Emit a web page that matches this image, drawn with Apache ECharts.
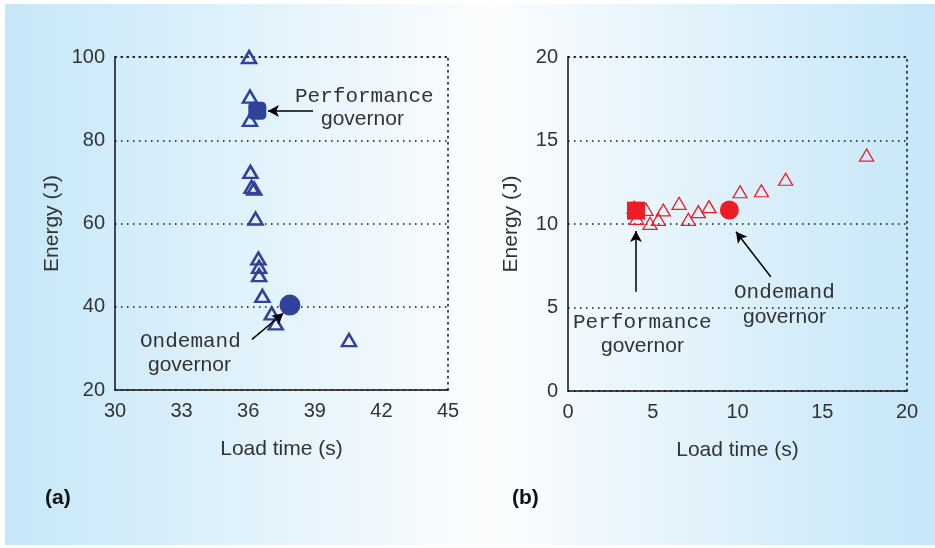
<!DOCTYPE html>
<html>
<head>
<meta charset="utf-8">
<script src="https://cdn.jsdelivr.net/npm/echarts@6/dist/echarts.min.js"></script>
<style>html,body{margin:0;padding:0;background:#fff}#c{width:935px;height:548px}</style>
</head>
<body>
<div id="c"></div>
<script>
// ---- Panel (a) data: [load time (s), energy (J)]
var otherA = [[36.04,100],[36.08,90.5],[36.08,84.9],[36.10,72.4],[36.15,68.8],[36.27,68.4],
  [36.33,61.2],[36.46,51.6],[36.49,49.6],[36.49,47.6],[36.64,42.6],[37.06,38.4],[37.24,36.0],[40.54,32.0]];
var perfA = [[36.41,87.1]];
var ondemandA = [[37.88,40.4]];
// ---- Panel (b) data
var otherB = [[3.9,11.0],[4.05,10.34],[4.6,10.88],[4.84,10.04],[5.33,10.28],[5.62,10.84],[6.55,11.24],
  [7.10,10.28],[7.69,10.74],[8.32,11.04],[10.15,11.93],[11.41,11.99],[12.84,12.68],[17.62,14.13]];
var perfB = [[4.01,10.80]];
var ondemandB = [[9.52,10.84]];
// ---- axis ticks
var xTicksA = [30,33,36,39,42,45];
var yTicksA = [20,40,60,80,100];
var xTicksB = [0,5,10,15,20];
var yTicksB = [0,5,10,15,20];
// ---- annotation arrows (data units): [from, to]
var arrowsA = [[[38.92,87.0],[36.89,87.0]], [[36.17,32.17],[37.58,38.43]]];
var arrowsB = [[[4.01,5.95],[4.01,9.58]], [[11.96,6.84],[9.91,9.54]]];

var BLUE = '#31429a', RED = '#ee1d25', TXT = '#333333';
var SANS = 'Liberation Sans', MONO = 'Liberation Mono';
var DOT = [1.5,4.5];

function xAxisMain(gi, ticks, name){
  return {gridIndex:gi, type:'value', min:ticks[0], max:ticks[ticks.length-1], interval:ticks[1]-ticks[0],
    axisLine:{show:true,onZero:false,lineStyle:{color:'#111',width:1.5}}, axisTick:{show:false}, splitLine:{show:false},
    axisLabel:{color:TXT,fontSize:20,fontFamily:SANS,margin:11},
    name:name, nameLocation:'middle', nameGap:49, nameTextStyle:{color:TXT,fontSize:21,fontFamily:SANS}};
}
function xAxisTop(gi, ticks){
  return {gridIndex:gi, type:'value', position:'top', min:ticks[0], max:ticks[ticks.length-1],
    axisLine:{show:true,onZero:false,lineStyle:{color:'#111',width:1.5,type:DOT}}, axisTick:{show:false},
    axisLabel:{show:false}, splitLine:{show:false}};
}
function yAxisMain(gi, ticks, gap){
  return {gridIndex:gi, type:'value', min:ticks[0], max:ticks[ticks.length-1], interval:ticks[1]-ticks[0],
    axisLine:{show:true,onZero:false,lineStyle:{color:'#111',width:1.5}}, axisTick:{show:false},
    splitLine:{show:true,lineStyle:{color:'#111',width:1.5,type:DOT}},
    axisLabel:{color:TXT,fontSize:20,fontFamily:SANS,margin:10},
    name:'Energy (J)', nameLocation:'middle', nameGap:gap, nameTextStyle:{color:TXT,fontSize:21,fontFamily:SANS}};
}
function yAxisRight(gi, ticks){
  return {gridIndex:gi, type:'value', position:'right', min:ticks[0], max:ticks[ticks.length-1],
    axisLine:{show:true,onZero:false,lineStyle:{color:'#111',width:1.5,type:DOT}}, axisTick:{show:false},
    axisLabel:{show:false}, splitLine:{show:false}};
}
function arrowLines(arr){
  return {silent:true, symbol:['none','arrow'], symbolSize:[9,11], label:{show:false},
    lineStyle:{color:'#000',width:1.5,type:'solid'},
    data: arr.map(function(a){return [{coord:a[0]},{coord:a[1]}];})};
}

var option = {
  animation:false,
  backgroundColor:'#ffffff',
  graphic:[
    {type:'rect', z:-10, silent:true, shape:{x:5,y:4,width:930,height:541},
     style:{fill:new echarts.graphic.LinearGradient(0,0,1,0,[
       {offset:0,color:'#c6e7f8'},{offset:0.52,color:'#fbfdfe'},{offset:1,color:'#c5e6f8'}])}},
    {type:'text', left:295, top:86, style:{text:'Performance', font:'21px "'+MONO+'"', fill:TXT}},
    {type:'text', left:321, top:109, style:{text:'governor', font:'21px "'+SANS+'"', fill:TXT}},
    {type:'text', left:140, top:331, style:{text:'Ondemand', font:'21px "'+MONO+'"', fill:TXT}},
    {type:'text', left:148, top:355, style:{text:'governor', font:'21px "'+SANS+'"', fill:TXT}},
    {type:'text', left:573, top:312, style:{text:'Performance', font:'21px "'+MONO+'"', fill:TXT}},
    {type:'text', left:601, top:336, style:{text:'governor', font:'21px "'+SANS+'"', fill:TXT}},
    {type:'text', left:734, top:282, style:{text:'Ondemand', font:'21px "'+MONO+'"', fill:TXT}},
    {type:'text', left:743, top:307, style:{text:'governor', font:'21px "'+SANS+'"', fill:TXT}},
    {type:'text', left:45, top:488, style:{text:'(a)', font:'bold 21px "'+SANS+'"', fill:'#111'}},
    {type:'text', left:512, top:488, style:{text:'(b)', font:'bold 21px "'+SANS+'"', fill:'#111'}}
  ],
  grid:[
    {left:115, top:57, width:333, height:333},
    {left:568, top:57, width:339, height:334}
  ],
  xAxis:[ xAxisMain(0,xTicksA,'Load time (s)'), xAxisTop(0,xTicksA), xAxisMain(1,xTicksB,'Load time (s)'), xAxisTop(1,xTicksB) ],
  yAxis:[ yAxisMain(0,yTicksA,52), yAxisRight(0,yTicksA), yAxisMain(1,yTicksB,46), yAxisRight(1,yTicksB) ],
  series:[
    {type:'scatter', xAxisIndex:0, yAxisIndex:0, data:otherA, symbol:'triangle', symbolSize:[14,12],
     itemStyle:{color:'rgba(0,0,0,0)', borderColor:BLUE, borderWidth:2.5, opacity:1}},
    {type:'scatter', xAxisIndex:0, yAxisIndex:0, data:perfA, symbol:'roundRect', symbolSize:18,
     itemStyle:{color:BLUE, opacity:1}, markLine:arrowLines(arrowsA)},
    {type:'scatter', xAxisIndex:0, yAxisIndex:0, data:ondemandA, symbol:'circle', symbolSize:21,
     itemStyle:{color:BLUE, opacity:1}},
    {type:'scatter', xAxisIndex:2, yAxisIndex:2, data:otherB, symbol:'triangle', symbolSize:[14,12],
     itemStyle:{color:'rgba(0,0,0,0)', borderColor:RED, borderWidth:1.3, opacity:1}},
    {type:'scatter', xAxisIndex:2, yAxisIndex:2, data:perfB, symbol:'rect', symbolSize:18,
     itemStyle:{color:RED, opacity:1}, markLine:arrowLines(arrowsB)},
    {type:'scatter', xAxisIndex:2, yAxisIndex:2, data:ondemandB, symbol:'circle', symbolSize:19,
     itemStyle:{color:RED, opacity:1}}
  ]
};
var chart = echarts.init(document.getElementById('c'), null, {renderer:'canvas'});
chart.setOption(option);
</script>
</body>
</html>
